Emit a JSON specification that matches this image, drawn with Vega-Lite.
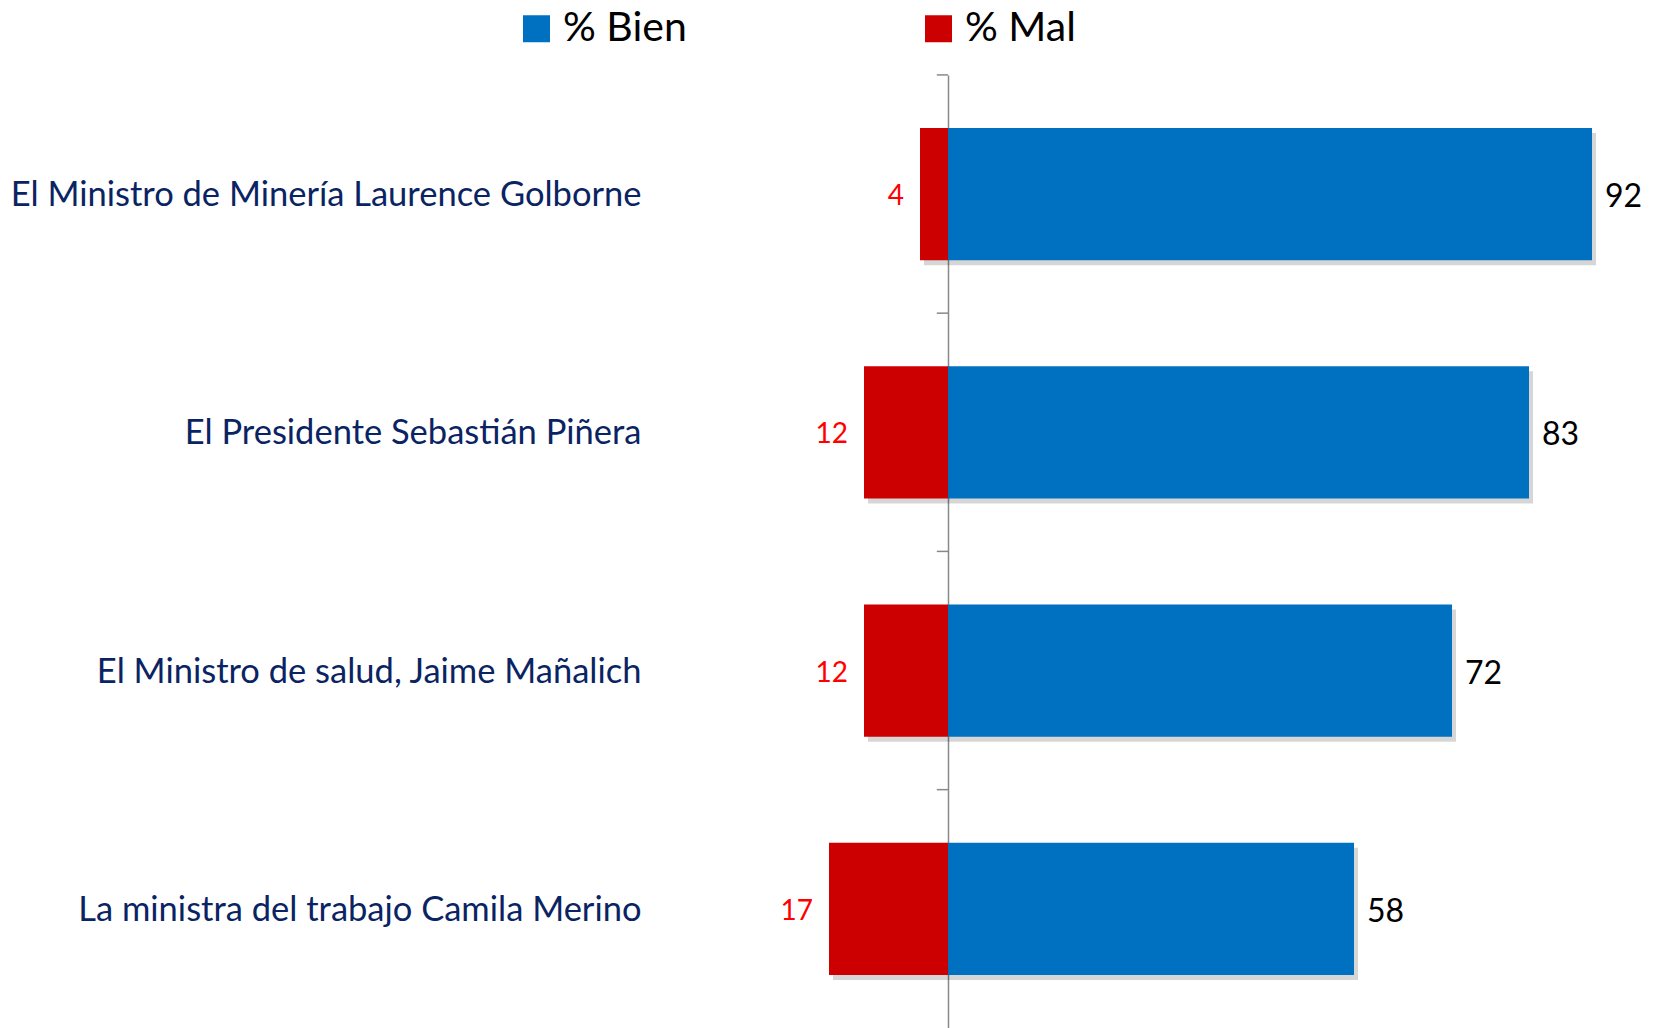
{
  "$schema": "https://vega.github.io/schema/vega-lite/v6.json",
  "width": 1662,
  "height": 953,
  "padding": {"top": 75, "left": 0, "right": 0, "bottom": 0},
  "autosize": {"type": "none"},
  "background": "white",
  "config": {"view": {"stroke": null}, "font": "Lato"},
  "data": {
    "values": [
      {"persona": "El Ministro de Minería Laurence Golborne", "serie": "% Bien", "valor": 92},
      {"persona": "El Ministro de Minería Laurence Golborne", "serie": "% Mal", "valor": 4},
      {"persona": "El Presidente Sebastián Piñera", "serie": "% Bien", "valor": 83},
      {"persona": "El Presidente Sebastián Piñera", "serie": "% Mal", "valor": 12},
      {"persona": "El Ministro de salud, Jaime Mañalich", "serie": "% Bien", "valor": 72},
      {"persona": "El Ministro de salud, Jaime Mañalich", "serie": "% Mal", "valor": 12},
      {"persona": "La ministra del trabajo Camila Merino", "serie": "% Bien", "valor": 58},
      {"persona": "La ministra del trabajo Camila Merino", "serie": "% Mal", "valor": 17}
    ]
  },
  "transform": [
    {"calculate": "datum.serie == '% Mal' ? -datum.valor : datum.valor", "as": "pos"}
  ],
  "encoding": {
    "y": {
      "field": "persona",
      "type": "nominal",
      "sort": null,
      "scale": {"paddingInner": 0.444, "paddingOuter": 0.222},
      "axis": {
        "title": null,
        "orient": "left",
        "offset": -948,
        "domain": true,
        "domainColor": "#898989",
        "domainWidth": 1.5,
        "ticks": false,
        "labelPadding": 307,
        "labelOffset": 2,
        "labelFont": "Lato",
        "labelFontSize": 34.5,
        "labelColor": "#0A2463",
        "labelAlign": "right",
        "labelLimit": 0
      }
    },
    "x": {
      "field": "pos",
      "type": "quantitative",
      "stack": null,
      "scale": {"domain": [-135.43, 102], "nice": false, "zero": false},
      "axis": null
    }
  },
  "layer": [
    {
      "transform": [{"filter": "datum.serie == '% Bien'"}],
      "mark": {"type": "rule", "color": "#898989", "strokeWidth": 1.5},
      "encoding": {
        "y": {"field": "persona", "type": "nominal", "sort": null, "bandPosition": -0.4},
        "x": {"datum": -1.6},
        "x2": {"datum": 0}
      }
    },
    {
      "mark": {"type": "bar", "color": "#000000", "opacity": 0.16, "xOffset": 4, "yOffset": 5}
    },
    {
      "mark": {"type": "bar"},
      "encoding": {
        "color": {
          "field": "serie",
          "type": "nominal",
          "scale": {"domain": ["% Bien", "% Mal"], "range": ["#0070C0", "#CC0000"]},
          "legend": {
            "title": null,
            "orient": "none",
            "legendX": 516,
            "legendY": -67,
            "direction": "horizontal",
            "symbolType": "square",
            "symbolSize": 729,
            "symbolStrokeWidth": 0,
            "labelFont": "Lato",
            "labelFontSize": 41,
            "labelColor": "#000000",
            "labelOffset": 6,
            "columnPadding": 231,
            "padding": 0
          }
        }
      }
    },
    {
      "transform": [{"filter": "datum.serie == '% Bien'"}],
      "mark": {"type": "text", "align": "left", "baseline": "middle", "dx": 13, "dy": 3, "fontSize": 32, "color": "#000000", "font": "Lato"},
      "encoding": {"text": {"field": "valor", "type": "quantitative"}}
    },
    {
      "transform": [{"filter": "datum.serie == '% Mal'"}],
      "mark": {"type": "text", "align": "right", "baseline": "middle", "dx": -16, "dy": 3, "fontSize": 28, "color": "#FF0000", "font": "Lato"},
      "encoding": {"text": {"field": "valor", "type": "quantitative"}}
    }
  ]
}
